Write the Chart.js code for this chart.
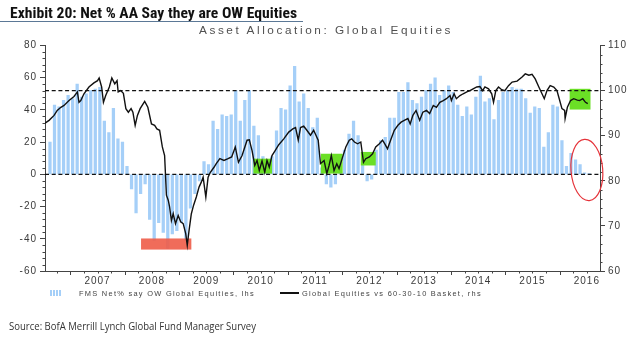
<!DOCTYPE html>
<html><head><meta charset="utf-8">
<script src="https://cdn.jsdelivr.net/npm/chart.js@4.4.1/dist/chart.umd.min.js"></script>
<style>
html,body{margin:0;padding:0;background:#fff;width:635px;height:337px;overflow:hidden;}
#wrap{position:relative;width:635px;height:337px;}
canvas{position:absolute;left:0;top:0;}
.t{position:absolute;white-space:nowrap;transform-origin:0 50%;}
#title{left:10px;top:6.3px;font:bold 14px/14px 'Liberation Sans Narrow','Roboto Condensed','DejaVu Sans Condensed',Roboto,'Liberation Sans',sans-serif;color:#111;}
#rule{position:absolute;left:0;top:20.6px;width:303px;height:1.3px;background:#5b7896;}
#sub{left:199px;top:24.5px;font:10.5px/10.5px 'Liberation Sans',Arial,sans-serif;letter-spacing:2.3px;color:#505050;}
.leg{font:7px/7px 'Liberation Sans',Arial,sans-serif;letter-spacing:1.2px;color:#444;top:289.5px;}
#leg1{left:79px;}
#leg2{left:302px;}
#legbar{position:absolute;left:50px;top:290px;width:12px;height:6px;background:repeating-linear-gradient(90deg,#a5cff8 0 2px,#fff 2px 3px);}
#legline{position:absolute;left:280px;top:292.4px;width:19px;height:1.4px;background:#111;}
#src{left:9px;top:319.5px;font:11px/11px 'Liberation Sans Narrow','Open Sans','Noto Sans',sans-serif;color:#333;}
</style></head><body>
<div id="wrap">
<canvas id="c" width="635" height="337"></canvas>
<div id="title" class="t">Exhibit 20: Net % AA Say they are OW Equities</div>
<div id="rule"></div>
<div id="sub" class="t">Asset Allocation: Global Equities</div>
<div id="legbar"></div>
<div id="leg1" class="t leg">FMS Net% say OW Global Equities, lhs</div>
<div id="legline"></div>
<div id="leg2" class="t leg">Global Equities vs 60-30-10 Basket, rhs</div>
<div id="src" class="t">Source: BofA Merrill Lynch Global Fund Manager Survey</div>
</div>
<script>
// ---- DATA ----
// x unit: months since Aug 2006 (0 = Aug 2006)
const yearLabels = ['2007','2008','2009','2010','2011','2012','2013','2014','2015','2016'];
const yearMidMonth = [10.5,22.5,34.5,46.5,58.5,70.5,82.5,94.5,106.5,118.5];
const yearStartMonth = [4.5,16.5,28.5,40.5,52.5,64.5,76.5,88.5,100.5,112.5];

// FMS Net % say overweight global equities (lhs), monthly Aug 2006 - Jul 2016
const fmsNet = [
  20,43,42,46,49,
  47,56,48,50,52,53,54,33,26,41,22,20,
  5,-9,-24,-12,-6,-28,-41,-30,-36,-46,-37,-35,
  -30,-41,-21,-12,-4,8,6,33,28,37,36,37,
  52,33,46,52,30,24,11,9,11,27,41,40,
  55,67,45,50,41,29,35,4,-6,-8,-6,11,
  15,25,33,24,7,-4,-3,15,21,23,35,35,
  51,51,57,46,44,48,52,56,60,49,52,55,
  51,43,36,42,37,48,61,45,47,34,46,51,
  52,54,53,53,47,38,42,41,17,26,43,42,
  21,5,13,9,6,1,0.5
];

// Global Equities vs 60-30-10 basket (rhs)
const basketMonth = [-1.1,-0.2,0.9,1.6,2.4,3.1,4.2,5.3,6.05,6.4,6.8,7.5,8.6,9.7,10.5,10.85,11.4,11.8,12.3,13.1,13.65,14.3,14.8,15.05,15.6,16.2,16.75,17.3,17.9,18.3,18.8,19.3,19.9,20.9,21.6,22.4,23.1,23.6,24.2,24.8,25.3,25.7,26.1,26.4,26.8,27.2,27.7,28.3,28.85,29.4,29.96,30.3,30.7,31.2,31.7,32.3,32.9,33.4,33.8,34.4,34.9,35.4,36.2,36.7,37.5,38.4,39.3,40.1,40.9,41.6,42.4,43.5,44,44.6,45.2,45.7,46.2,46.8,47.4,47.9,48.4,49,49.7,50.5,51.6,52.7,53.6,54.2,54.8,55.3,56,56.7,57.5,58.2,58.7,59.2,59.7,60.5,61.1,61.6,62.1,62.7,63.3,63.8,64.6,65.3,66.05,66.6,67.2,67.9,68.6,69.2,69.7,70.5,71.2,71.9,72.7,73.4,73.9,74.5,75.3,76,76.8,77.5,78.2,79,79.5,80.1,80.8,81.6,82.3,83.1,83.8,84.6,85.3,86.05,86.8,87.5,88.3,88.6,89.2,89.7,90.5,91.2,92,92.7,93.4,94.2,94.9,95.5,96,96.8,97.5,97.9,98.4,99,99.7,100.4,101.2,102,103.1,104.2,104.9,105.7,106.4,107.1,107.9,108.6,109.1,109.7,110.4,111.2,111.9,112.4,113,113.6,113.7,114.2,114.9,115.6,116.4,116.9,117.6,118.2,118.7];
const basketValue = [92.8,93.4,94.5,95.6,96.3,96.7,97.8,98.7,99.7,97.4,97.8,99.3,100.8,101.7,102.2,102.8,100.8,97.4,98.9,100.8,102.8,101.5,102.2,99.7,100,99.4,96,95.2,96,95.2,92.3,94.5,96,97.6,96.3,92.6,92.3,91.5,91.2,87.5,85.6,76.8,75.7,74.2,71.2,72.7,70.5,72.3,70.9,70.5,68.3,65.7,69,72.7,74.6,76.4,78.6,79.7,80.8,76.4,80.8,81.9,83,83.8,84.9,84.5,84.9,85.3,87.5,84.1,85.6,89,89.1,86.7,83.4,84.5,82.3,84.4,81.9,84.5,83,85.6,86.7,88,89.3,90.8,91.5,91.8,89,91.8,92.1,91.2,90.1,91.2,90.1,89,83.8,84.5,81.6,83.4,85.6,82.3,83.8,82.7,85.3,87.5,89,89.3,88.6,88.2,88.6,84.1,84.9,85.3,86,87.5,88.2,89,88.2,87.1,89.3,91.2,92.3,93,93.4,93.8,92.6,94.5,95.6,93.4,95.2,95.6,94.9,96.7,96.3,97.4,97.8,98.2,98.9,97.8,99.3,98.2,98.9,99.3,99.7,100,100.4,100.8,100.9,100,100.8,100.4,99.3,97.4,100,100.8,100.2,100,101.1,101.9,102.1,103,103.7,103.4,103.6,102.6,100.8,99.3,98.2,100,101.1,100.8,100,98.2,96,95.6,93.8,96.3,97.8,98.2,97.9,97.8,98.2,97.4,97.1];

// Highlight annotations, in data units: [fromMonth, toMonth, fromValue, toValue]
const greenHighlightsRhs = [[44.9,49.0,81.6,84.9],[59.8,64.6,81.6,86.0],[68.6,71.9,83.4,86.4],[114.7,119.3,95.8,100.4]];
const redHighlightLhs = [20.1,31.2,-46.7,-39.8];
const circleRhs = [118.5,82.4,3.5,6.8]; // centre month, centre value, month radius, value radius
const refLineRhs = 100;
const refLineLhs = 0;

// ---- CHART ----
const axisColor = '#444';
const tickFont = {family:"'Liberation Sans', Arial, sans-serif", size:10};

const deco = {
  id:'deco',
  beforeDraw(c){ c.ctx.letterSpacing = '1px'; },
  beforeDatasetsDraw(c){
    const ctx=c.ctx; ctx.letterSpacing='0px';
    const x=c.scales.x, y=c.scales.y, y1=c.scales.y1, a=c.chartArea;
    ctx.save(); ctx.strokeStyle=axisColor; ctx.lineWidth=1; ctx.beginPath();
    for(let v=-60; v<=80; v+=4){ if(v%20===0) continue; const p=Math.round(y.getPixelForValue(v))+0.5; ctx.moveTo(a.left-2.5,p); ctx.lineTo(a.left,p); }
    for(let v=60; v<=110; v+=2){ if(v%10===0) continue; const p=Math.round(y1.getPixelForValue(v))+0.5; ctx.moveTo(a.right,p); ctx.lineTo(a.right+2.5,p); }
    for(let m=1.5; m<=x.max; m+=3){ const p=Math.round(x.getPixelForValue(m))+0.5; const major=yearStartMonth.includes(m); ctx.moveTo(p,a.bottom); ctx.lineTo(p,a.bottom+(major?4:2.5)); }
    ctx.stroke(); ctx.restore();
  },
  afterDatasetDraw(c,args){
    if(args.index!==1) return;
    const ctx=c.ctx, x=c.scales.x, y=c.scales.y, y1=c.scales.y1, a=c.chartArea;
    ctx.save();
    ctx.fillStyle='#6bdf26';
    greenHighlightsRhs.forEach(b=>{
      const x0=x.getPixelForValue(b[0]), x1=x.getPixelForValue(b[1]);
      const yA=y1.getPixelForValue(b[3]), yB=y1.getPixelForValue(b[2]);
      ctx.fillRect(x0,yA,x1-x0,yB-yA);
    });
    ctx.fillStyle='rgba(238,92,72,0.9)';
    { const b=redHighlightLhs; const x0=x.getPixelForValue(b[0]), x1=x.getPixelForValue(b[1]);
      const yA=y.getPixelForValue(b[3]), yB=y.getPixelForValue(b[2]); ctx.fillRect(x0,yA,x1-x0,yB-yA); }
    ctx.strokeStyle='#111'; ctx.lineWidth=1.3; ctx.setLineDash([4,2.7]);
    ctx.beginPath();
    const p1=y1.getPixelForValue(refLineRhs), p0=y.getPixelForValue(refLineLhs);
    ctx.moveTo(a.left,p1); ctx.lineTo(a.right,p1);
    ctx.moveTo(a.left,p0); ctx.lineTo(a.right,p0);
    ctx.stroke();
    ctx.restore();
  },
  afterDatasetsDraw(c){
    const ctx=c.ctx, x=c.scales.x, y1=c.scales.y1;
    const cx=x.getPixelForValue(circleRhs[0]), cy=y1.getPixelForValue(circleRhs[1]);
    const rx=x.getPixelForValue(circleRhs[0]+circleRhs[2])-cx, ry=cy-y1.getPixelForValue(circleRhs[1]+circleRhs[3]);
    ctx.save(); ctx.strokeStyle='#e5333a'; ctx.lineWidth=1.2; ctx.beginPath();
    ctx.ellipse(cx,cy,rx,ry,-0.08,0,Math.PI*2); ctx.stroke(); ctx.restore();
  }
};

new Chart(document.getElementById('c').getContext('2d'), {
  data:{
    datasets:[
      {type:'line', label:'Global Equities vs 60-30-10 Basket, rhs',
       data:basketMonth.map((m,i)=>({x:m,y:basketValue[i]})), yAxisID:'y1',
       borderColor:'#111', borderWidth:1.4, pointRadius:0, tension:0, order:1},
      {type:'bar', label:'FMS Net% say OW Global Equities, lhs',
       data:fmsNet.map((v,i)=>({x:i,y:v})), yAxisID:'y',
       backgroundColor:'#a5cff8', barThickness:2.6, order:2}
    ]
  },
  options:{
    responsive:false, animation:false, devicePixelRatio:1,
    layout:{padding:{top:45.5,bottom:46,left:0,right:0}},
    plugins:{legend:{display:false}, tooltip:{enabled:false}, title:{display:false}},
    scales:{
      x:{type:'linear', position:'bottom', min:-1.1, max:121.4, offset:false,
         afterFit(s){ s.height=20; },
         afterBuildTicks(s){ s.ticks = yearMidMonth.map(v=>({value:v})); },
         ticks:{callback:(v,i)=>yearLabels[i], autoSkip:false, maxRotation:0, minRotation:0, padding:4, font:tickFont, color:'#3a3a3a'},
         grid:{display:false, drawTicks:false},
         border:{display:true, color:axisColor, width:1}},
      y:{type:'linear', position:'left', min:-60, max:80,
         afterFit(s){ s.width=45; },
         ticks:{stepSize:20, padding:3, font:tickFont, color:'#3a3a3a'},
         grid:{drawOnChartArea:false, tickLength:5, color:axisColor},
         border:{display:true, color:axisColor, width:1}},
      y1:{type:'linear', position:'right', min:60, max:110,
         afterFit(s){ s.width=35; },
         ticks:{stepSize:10, padding:3, font:tickFont, color:'#3a3a3a'},
         grid:{drawOnChartArea:false, tickLength:5, color:axisColor},
         border:{display:true, color:axisColor, width:1}}
    }
  },
  plugins:[deco]
});

function fit(id,w){ const el=document.getElementById(id); const r=el.getBoundingClientRect().width; if(r>0) el.style.transform='scaleX('+(w/r)+')'; }
fit('title',287); fit('sub',254); fit('leg1',176); fit('leg2',180); fit('src',247);
</script>
</body></html>
